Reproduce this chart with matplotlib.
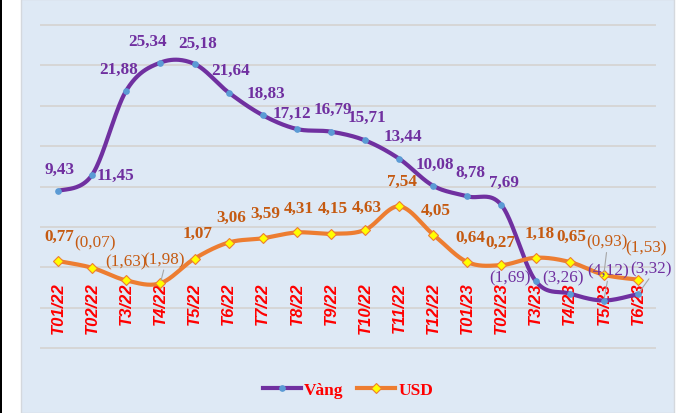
import numpy as np
import matplotlib
matplotlib.use("Agg")
import matplotlib.pyplot as plt
from matplotlib.lines import Line2D
from matplotlib.patches import Rectangle

# ---- data -------------------------------------------------------------
months = ["T01/22", "T02/22", "T3/22", "T4/22", "T5/22", "T6/22", "T7/22",
          "T8/22", "T9/22", "T10/22", "T11/22", "T12/22", "T01/23", "T02/23",
          "T3/23", "T4/23", "T5/23", "T6/23"]
gold = [9.43, 11.45, 21.88, 25.34, 25.18, 21.64, 18.83, 17.12, 16.79, 15.71,
        13.44, 10.08, 8.78, 7.69, -1.69, -3.26, -4.12, -3.32]
usd = [0.77, -0.07, -1.63, -1.98, 1.07, 3.06, 3.59, 4.31, 4.15, 4.63,
       7.54, 4.05, 0.64, 0.27, 1.18, 0.65, -0.93, -1.53]

# label offsets in pixels (dx, dy) relative to each point
gold_off = [(1, 22), (23, 0), (-8, 22), (-13, 22), (3, 21), (2, 23), (3, 22),
            (-5, 16), (2, 23), (2, 24), (4, 23), (2, 22), (3, 24), (3, 23),
            (-26, 4), (-7, 16), (4, 30), (13, 26)]
usd_off = [(1, 25), (3, 25), (0, 19), (4, 24), (3, 26), (3, 26), (3, 25),
           (2, 25), (2, 26), (2, 23), (3, 25), (2, 25), (3, 25), (-1, 23),
           (4, 25), (2, 26), (3, 33), (8, 32)]
gold_leader = {16, 17}
usd_leader = {3, 16}

# ---- style ------------------------------------------------------------
W, H = 693, 414
BG = "#DEE9F5"
GOLD = "#7030A0"
GOLD_MK = "#5B9BD5"
USD = "#ED7D31"
USD_TXT = "#C55A11"
SERIF = ["Liberation Serif", "DejaVu Serif"]
SANS = ["Liberation Sans", "DejaVu Sans"]


def fmt(v):
    s = f"{abs(v):.2f}".replace(".", ",")
    return f"({s})" if v < 0 else s


def smooth(vals, n=40):
    """Bezier smoothing through every point (Catmull-Rom style)."""
    y = np.asarray(vals, float)
    x = np.arange(len(y), dtype=float)
    P = np.column_stack([x, y])
    Pp = np.vstack([P[0], P, P[-1]])
    t = np.linspace(0, 1, n)[:, None]
    parts = []
    for i in range(len(P) - 1):
        p0, p1, p2, p3 = Pp[i], Pp[i + 1], Pp[i + 2], Pp[i + 3]
        c1 = p1 + (p2 - p0) / 6.0
        c2 = p2 - (p3 - p1) / 6.0
        seg = ((1 - t) ** 3) * p1 + 3 * ((1 - t) ** 2) * t * c1 \
            + 3 * (1 - t) * (t ** 2) * c2 + (t ** 3) * p2
        parts.append(seg if i == 0 else seg[1:])
    return np.vstack(parts)


fig = plt.figure(figsize=(W / 100, H / 100), dpi=100, facecolor="white")

# panel background
fig.patches.append(Rectangle((21 / W, 0), (674 - 21) / W, 1,
                             transform=fig.transFigure, facecolor=BG,
                             edgecolor="#D4D8DD", linewidth=1.0, zorder=-5))
fig.patches.append(Rectangle((0, 0), 1.5 / W, 1, transform=fig.transFigure,
                             facecolor="black", edgecolor="none", zorder=-5))

ax = fig.add_axes([41 / W, 65 / H, 614 / W, 323 / H])
ax.set_facecolor("none")
ax.set_xlim(-0.5, len(months) - 0.5)
ax.set_ylim(-10, 30)
for s in ax.spines.values():
    s.set_visible(False)
ax.set_xticks([])
ax.set_yticks([])

for g in range(-10, 31, 5):
    ax.axhline(g, color="#D6D6D6", lw=1.4, zorder=1, clip_on=False)

x = np.arange(len(months))

# curves
cg = smooth(gold)
cu = smooth(usd)
ax.plot(cg[:, 0], cg[:, 1], color=GOLD, lw=3.0, zorder=3,
        solid_capstyle="round", clip_on=False)
ax.plot(x, gold, ls="none", marker="o", ms=3.8, mfc=GOLD_MK, mec=GOLD_MK,
        zorder=4, clip_on=False)
ax.plot(cu[:, 0], cu[:, 1], color=USD, lw=3.0, zorder=3,
        solid_capstyle="round", clip_on=False)
ax.plot(x, usd, ls="none", marker="D", ms=5.5, mfc="#FFFF00", mec=USD,
        mew=0.8, zorder=4, clip_on=False)

# month labels hanging below the zero line
for i, m in enumerate(months):
    ax.annotate(m, (i, 0), xytext=(0, -14), textcoords="offset pixels",
                rotation=90, ha="center", va="top", color="#FF0000",
                fontsize=12, fontweight="bold", fontstyle="italic",
                family=SANS, zorder=2)

# value labels


def put_labels(vals, offs, color, leaders):
    for i, (v, (dx, dy)) in enumerate(zip(vals, offs)):
        kw = {}
        if i in leaders:
            kw["arrowprops"] = dict(arrowstyle="-", color="#A6A6A6", lw=0.8,
                                    shrinkA=0, shrinkB=2, relpos=(0.5, 0.0))
        ax.annotate(fmt(v), (i, v), xytext=(dx, dy),
                    textcoords="offset pixels", ha="center", va="center",
                    color=color, fontsize=12.3,
                    fontweight="normal" if v < 0 else "bold",
                    family=SERIF, zorder=5, annotation_clip=False, **kw)


put_labels(gold, gold_off, GOLD, gold_leader)
put_labels(usd, usd_off, USD_TXT, usd_leader)

# legend
handles = [
    Line2D([], [], color=GOLD, lw=3.0, marker="o", ms=3.8, mfc=GOLD_MK,
           mec=GOLD_MK),
    Line2D([], [], color=USD, lw=3.0, marker="D", ms=5.5, mfc="#FFFF00",
           mec=USD, mew=0.8),
]
leg = fig.legend(handles, ["Vàng", "USD"], loc="center",
                 bbox_to_anchor=(348 / W, 23 / H), ncol=2, frameon=False,
                 handlelength=2.2, handletextpad=0.15, columnspacing=0.8,
                 prop={"family": SERIF, "weight": "bold", "size": 12.5})
for t in leg.get_texts():
    t.set_color("#FF0000")

fig.savefig("out.png", dpi=100, facecolor="white")
